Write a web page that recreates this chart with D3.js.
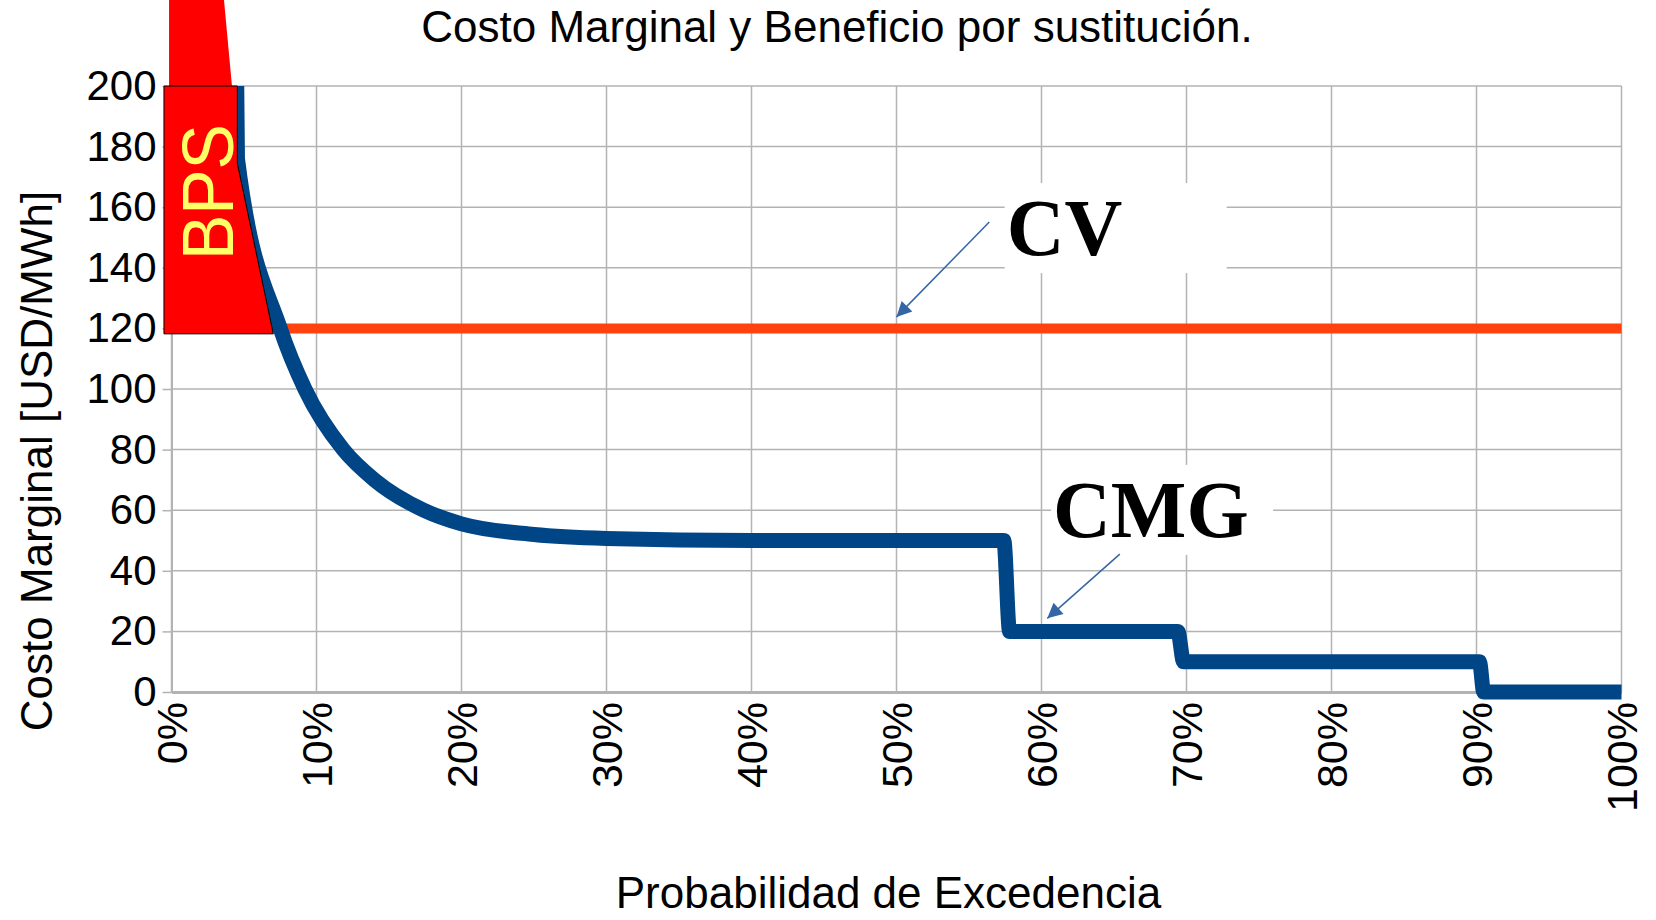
<!DOCTYPE html>
<html lang="es">
<head>
<meta charset="UTF-8">
<title>Costo Marginal y Beneficio por sustitución</title>
<script src="https://d3js.org/d3.v7.min.js"></script>
<style>
    body { margin: 0; background: #fff; overflow: hidden; }
    text { font-family: "Liberation Sans", Arial, sans-serif; }
    .grid line { stroke: #b3b3b3; stroke-width: 1.5; }
    .axis path, .axis line { stroke: #b3b3b3; }
    .etiqueta { font-family: "Liberation Serif", "Times New Roman", serif; font-weight: bold; }
</style>
</head>
<body>
<div id="chart"></div>
<script>
// Curva de costo marginal (probabilidad de excedencia en %, USD/MWh)
const probabilidad = [4.5, 4.55, 7.5, 9.2, 11.85, 14, 17.4, 20, 25, 30, 40, 57.4, 57.8, 69.4, 69.8, 90.2, 90.5, 100];
const costoMarginal = [200, 176, 120, 100, 80, 70, 60, 55.5, 52, 50.7, 50, 50, 20, 20, 10, 10, 0, 0];

// Costo variable (constante)
const costoVariable = 120;

// Área BPS (en unidades de datos)
const bpsX = [-0.52, -0.52, 4.54, 4.54, 7.02];
const bpsY = [118.2, 200, 200, 174.5, 118.2];
const bpsArribaX = [-0.17, 3.55, 4.17, -0.17];
const bpsArribaY = [232, 232, 200, 200];

// Ejes
const xTicks = [0, 10, 20, 30, 40, 50, 60, 70, 80, 90, 100];
const yTicks = [0, 20, 40, 60, 80, 100, 120, 140, 160, 180, 200];

// Anotaciones: [texto, x texto, y base texto, x inicio flecha, y inicio, x punta, y punta]
const notaCV = ["CV", 57.6, 144.2, 56.4, 155.1, 50.0, 123.8];
const notaCMG = ["CMG", 60.8, 51.2, 65.4, 45.5, 60.4, 24.3];

const W = 1656, H = 920;
const margin = { top: 86, right: 34.5, bottom: 228, left: 171.5 };
const width = W - margin.left - margin.right;
const height = H - margin.top - margin.bottom;

const svgRoot = d3.select("#chart").append("svg")
    .attr("width", W).attr("height", H);

const defs = svgRoot.append("defs");
defs.append("clipPath").attr("id", "clip")
    .append("rect").attr("y", 0).attr("width", width + 2).attr("height", height + 10);
defs.append("marker")
    .attr("id", "punta")
    .attr("viewBox", "0 0 10 10")
    .attr("refX", 10).attr("refY", 5)
    .attr("markerUnits", "userSpaceOnUse")
    .attr("markerWidth", 22).attr("markerHeight", 15)
    .attr("orient", "auto")
    .append("path").attr("d", "M0,0 L10,5 L0,10 z").attr("fill", "#3465a4");

const svg = svgRoot.append("g")
    .attr("transform", `translate(${margin.left},${margin.top})`);

const x = d3.scaleLinear().domain([0, 100]).range([0, width]);
const y = d3.scaleLinear().domain([0, 200]).range([height, 0]);

// Rejilla
const grid = svg.append("g").attr("class", "grid");
grid.selectAll(".gx").data(xTicks).enter().append("line")
    .attr("x1", d => x(d)).attr("x2", d => x(d))
    .attr("y1", 0).attr("y2", height);
grid.selectAll(".gy").data(yTicks).enter().append("line")
    .attr("x1", 0).attr("x2", width)
    .attr("y1", d => y(d)).attr("y2", d => y(d));

// Cajas blancas detrás de las etiquetas
[notaCV, notaCMG].forEach(n => {
    svg.append("rect")
        .attr("x", x(n[1]) - 2).attr("y", y(n[2]) - 72)
        .attr("width", 222).attr("height", 90)
        .attr("fill", "#fff");
});

// Eje Y
const yAxis = svg.append("g").attr("class", "axis")
    .call(d3.axisLeft(y).tickValues(yTicks).tickSize(9).tickPadding(6).tickSizeOuter(0));
yAxis.select(".domain").attr("stroke-width", 2);
yAxis.selectAll("line").attr("stroke-width", 1.5);
yAxis.selectAll("text")
    .attr("fill", "#000")
    .style("font-size", "42px")
    .style("font-family", "'Liberation Sans', Arial, sans-serif");

// Eje X
const xAxis = svg.append("g").attr("class", "axis")
    .attr("transform", `translate(0,${height})`)
    .call(d3.axisBottom(x).tickValues(xTicks).tickFormat(d => d + "%").tickSize(0).tickSizeOuter(0));
xAxis.select(".domain").attr("stroke-width", 3);
xAxis.selectAll("text")
    .attr("fill", "#000")
    .style("font-size", "43px")
    .style("font-family", "'Liberation Sans', Arial, sans-serif")
    .attr("transform", "rotate(-90)")
    .attr("text-anchor", "end")
    .attr("x", -10).attr("y", 0)
    .attr("dy", "0.36em");

// Línea CV
svg.append("line")
    .attr("x1", x(0)).attr("x2", x(100))
    .attr("y1", y(costoVariable)).attr("y2", y(costoVariable))
    .attr("stroke", "#ff420e").attr("stroke-width", 10);

// Curva CMG
const linea = d3.line()
    .x((d, i) => x(probabilidad[i]))
    .y(d => y(d))
    .curve(d3.curveMonotoneX);

svg.append("path")
    .datum(costoMarginal)
    .attr("clip-path", "url(#clip)")
    .attr("d", linea)
    .attr("fill", "none")
    .attr("stroke", "#004586")
    .attr("stroke-width", 15)
    .attr("stroke-linejoin", "round");

// Área BPS
const poligono = (xs, ys) => xs.map((v, i) => [x(v), y(ys[i])]).join(" ");
svg.append("polygon")
    .attr("points", poligono(bpsArribaX, bpsArribaY))
    .attr("fill", "#ff0000");
svg.append("polygon")
    .attr("points", poligono(bpsX, bpsY))
    .attr("fill", "#ff0000")
    .attr("stroke", "#000")
    .attr("stroke-width", 1);

svg.append("text")
    .attr("transform", `translate(${x(2.4)},${y(165)}) rotate(-90)`)
    .attr("text-anchor", "middle")
    .attr("dy", "0.36em")
    .attr("fill", "#ffff66")
    .style("font-size", "73px")
    .attr("textLength", 136)
    .attr("lengthAdjust", "spacingAndGlyphs")
    .text("BPS");

// Etiquetas y flechas
[notaCV, notaCMG].forEach(n => {
    svg.append("text")
        .attr("class", "etiqueta")
        .attr("x", x(n[1])).attr("y", y(n[2]))
        .style("font-size", "80px")
        .attr("fill", "#000")
        .text(n[0]);
    svg.append("line")
        .attr("x1", x(n[3])).attr("y1", y(n[4]))
        .attr("x2", x(n[5])).attr("y2", y(n[6]))
        .attr("stroke", "#3465a4").attr("stroke-width", 1.5)
        .attr("marker-end", "url(#punta)");
});

// Títulos
svgRoot.append("text")
    .attr("x", 837).attr("y", 42)
    .attr("text-anchor", "middle")
    .style("font-size", "44px")
    .text("Costo Marginal y Beneficio por sustitución.");

svgRoot.append("text")
    .attr("transform", "translate(52,461) rotate(-90)")
    .attr("text-anchor", "middle")
    .style("font-size", "44px")
    .text("Costo Marginal [USD/MWh]");

svgRoot.append("text")
    .attr("x", margin.left + width / 2 - 8).attr("y", 908)
    .attr("text-anchor", "middle")
    .style("font-size", "44px")
    .text("Probabilidad de Excedencia");
</script>
</body>
</html>
